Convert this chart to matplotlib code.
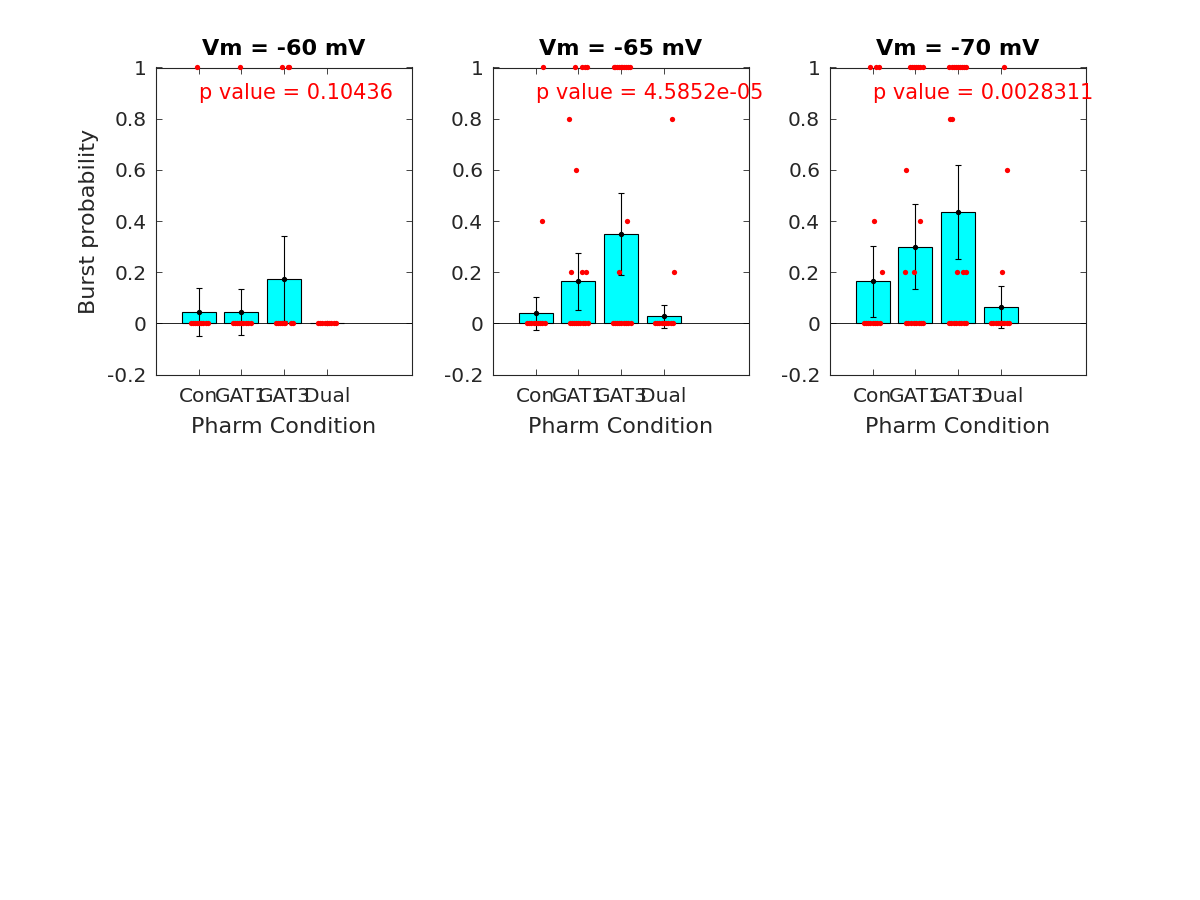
import numpy as np
import matplotlib
matplotlib.use("Agg")
import matplotlib.pyplot as plt

conditions = ["Con", "GAT1", "GAT3", "Dual"]
titles = ["Vm = -60 mV", "Vm = -65 mV", "Vm = -70 mV"]
p_texts = ["p value = 0.10436", "p value = 4.5852e-05", "p value = 0.0028311"]

# bar heights and error bar half-lengths per panel
means = [
    [0.046, 0.043, 0.175, 0.0],
    [0.040, 0.164, 0.350, 0.027],
    [0.164, 0.300, 0.435, 0.063],
]
errs = [
    [0.094, 0.090, 0.167, 0.0],
    [0.064, 0.113, 0.160, 0.044],
    [0.139, 0.167, 0.183, 0.082],
]

# individual cell values (y) and their jitter around the condition (dx)
dots_y = [
    [
        [1] + [0] * 9,
        [1] + [0] * 9,
        [1, 1, 1] + [0] * 8,
        [0] * 9,
    ],
    [
        [1, 0.4] + [0] * 9,
        [1, 1, 1, 1, 0.8, 0.6, 0.2, 0.2, 0.2] + [0] * 9,
        [1] * 10 + [0.4, 0.2] + [0] * 9,
        [0.8, 0.2] + [0] * 9,
    ],
    [
        [1, 1, 1, 0.4, 0.2] + [0] * 8,
        [1] * 7 + [0.6, 0.4, 0.2, 0.2] + [0] * 8,
        [1] * 9 + [0.8, 0.8, 0.2, 0.2, 0.2] + [0] * 8,
        [1, 0.6, 0.2] + [0] * 9,
    ],
]
dots_dx = [
    [
        [-0.03, -0.19, -0.14, -0.09, -0.04, 0.01, 0.06, 0.11, 0.16, 0.21],
        [-0.04, -0.2, -0.15, -0.1, -0.05, 0.0, 0.05, 0.1, 0.16, 0.22],
        [-0.04, 0.10, 0.12, -0.2, -0.15, -0.1, -0.05, 0.0, 0.03, 0.17, 0.22],
        [-0.2, -0.15, -0.1, -0.05, 0.0, 0.05, 0.1, 0.16, 0.21],
    ],
    [
        [0.17, 0.16, -0.2, -0.15, -0.1, -0.05, 0.0, 0.05, 0.1, 0.16, 0.22],
        [-0.08, 0.09, 0.15, 0.2, -0.22, -0.06, -0.18, 0.09, 0.17,
         -0.2, -0.15, -0.1, -0.05, 0.0, 0.05, 0.1, 0.16, 0.22],
        [-0.17, -0.13, -0.09, -0.05, -0.01, 0.03, 0.08, 0.12, 0.16, 0.2, 0.13, -0.05,
         -0.19, -0.14, -0.09, -0.04, 0.01, 0.06, 0.11, 0.17, 0.23],
        [0.19, 0.24, -0.2, -0.15, -0.1, -0.05, 0.0, 0.05, 0.11, 0.17, 0.23],
    ],
    [
        [-0.06, 0.09, 0.15, 0.04, 0.23, -0.2, -0.15, -0.1, -0.05, 0.0, 0.05, 0.11, 0.18],
        [-0.12, -0.08, -0.03, 0.02, 0.07, 0.12, 0.17, -0.21, 0.11, -0.23, -0.03,
         -0.22, -0.16, -0.1, -0.04, 0.02, 0.08, 0.13, 0.19],
        [-0.2, -0.15, -0.1, -0.05, 0.0, 0.05, 0.1, 0.15, 0.19, -0.18, -0.14, -0.03, 0.12, 0.18,
         -0.22, -0.16, -0.1, -0.04, 0.02, 0.08, 0.13, 0.19],
        [0.09, 0.15, 0.04, -0.22, -0.17, -0.12, -0.07, -0.02, 0.04, 0.09, 0.15, 0.2],
    ],
]

text_col = "#262626"
plt.rcParams["font.family"] = "DejaVu Sans"

fig = plt.figure(figsize=(12, 9), dpi=100)
lefts = [0.1300, 0.4108, 0.6916]

for i in range(3):
    ax = fig.add_axes([lefts[i], 0.5838, 0.2134, 0.3412])
    x = np.arange(1, len(conditions) + 1)
    ax.bar(x, means[i], width=0.8, color="#00ffff", edgecolor="black", linewidth=0.8, zorder=2)
    ax.axhline(0, color="black", linewidth=0.6, zorder=2.5)
    ax.errorbar(x, means[i], yerr=errs[i], fmt="o", color="black", markersize=2.8,
                elinewidth=0.8, capsize=2, capthick=0.8, zorder=3)
    for k in range(len(conditions)):
        xs = x[k] + np.array(dots_dx[i][k])
        ax.plot(xs, dots_y[i][k], "o", color="red", markersize=3.8, markeredgewidth=0,
                zorder=4, clip_on=False)
    ax.text(1, 0.9, p_texts[i], color="red", fontsize=15, ha="left", va="center", zorder=5)

    ax.set_xlim(0, 6)
    ax.set_ylim(-0.2, 1)
    ax.set_xticks(x)
    ax.set_xticklabels(conditions)
    ax.set_yticks([-0.2, 0, 0.2, 0.4, 0.6, 0.8, 1])
    ax.set_yticklabels(["-0.2", "0", "0.2", "0.4", "0.6", "0.8", "1"])
    ax.tick_params(direction="in", top=True, right=True, length=4, width=0.6,
                   labelsize=14.5, colors=text_col, pad=7)
    ax.tick_params(axis="x", pad=9)
    for s in ax.spines.values():
        s.set_color(text_col)
        s.set_linewidth(0.8)
    ax.set_title(titles[i], fontsize=16, fontweight="bold", pad=9)
    ax.set_xlabel("Pharm Condition", fontsize=16, color=text_col, labelpad=8)
    if i == 0:
        ax.set_ylabel("Burst probability", fontsize=16, color=text_col, labelpad=6)

fig.savefig("out.png", dpi=100)
